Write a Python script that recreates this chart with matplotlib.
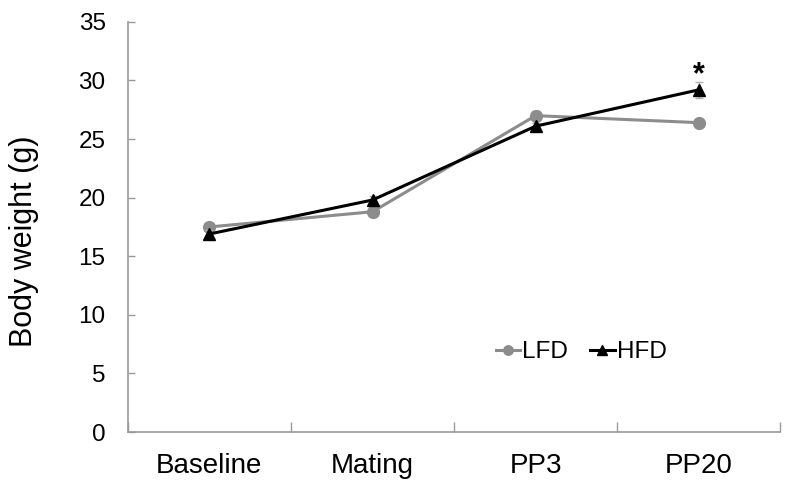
import matplotlib

matplotlib.use("Agg")

import matplotlib.pyplot as plt
import numpy as np

plt.rcParams["font.family"] = ["Liberation Sans", "DejaVu Sans"]

# data
stages = ["Baseline", "Mating", "PP3", "PP20"]
lfd_weight = [17.5, 18.8, 27.0, 26.4]
lfd_err = [0.3, 0.3, 0.4, 0.3]
hfd_weight = [16.9, 19.8, 26.1, 29.2]
hfd_err = [0.3, 0.3, 0.3, 0.7]
star_idx = 3
star_y = 29.8

gray = "#8c8c8c"
axis_gray = "#999999"

fig = plt.figure(figsize=(7.89, 4.86), dpi=100)
ax = fig.add_axes([0.162, 0.111, 0.827, 0.844])

x = np.arange(len(stages))
ax.errorbar(x, lfd_weight, yerr=lfd_err, color=gray, ecolor="#b0b0b0",
            elinewidth=1, capsize=3, marker="o", markersize=8.5,
            linewidth=2.2, label="LFD", zorder=3)
ax.errorbar(x, hfd_weight, yerr=hfd_err, color="black", ecolor="#b0b0b0",
            elinewidth=1, capsize=3, marker="^", markersize=8.5,
            linewidth=2.2, label="HFD", zorder=4)
ax.text(x[star_idx], star_y, "*", ha="center", va="baseline",
        fontsize=22, fontweight="bold")

ax.set_xlim(-0.5, len(stages) - 0.5)
ax.set_ylim(0, 35)
ax.set_yticks(np.arange(0, 36, 5))
ax.set_xticks(x)
ax.set_xticklabels(stages)
ax.set_xticks(np.arange(-0.5, len(stages), 1.0), minor=True)
ax.tick_params(axis="x", which="major", length=0, pad=15, labelsize=20)
ax.tick_params(axis="x", which="minor", direction="in", length=7,
               color=axis_gray, width=1)
ax.tick_params(axis="y", direction="in", length=5, color=axis_gray,
               width=1, pad=16, labelsize=17.5)
ax.set_ylabel("Body weight (g)", fontsize=22)
ax.yaxis.set_label_coords(-0.136, 0.465)

for side in ["top", "right"]:
    ax.spines[side].set_visible(False)
for side in ["left", "bottom"]:
    ax.spines[side].set_color(axis_gray)
    ax.spines[side].set_linewidth(1.2)

handles, labels = ax.get_legend_handles_labels()
handles = [h[0] for h in handles]
ax.legend(handles, labels, loc="center", bbox_to_anchor=(0.695, 0.195),
          ncol=2, frameon=False, fontsize=17.5, handlelength=1.0,
          handletextpad=0.1, columnspacing=0.9, markerscale=0.8,
          borderpad=0)

fig.savefig("out.png", dpi=100)
plt.close(fig)
